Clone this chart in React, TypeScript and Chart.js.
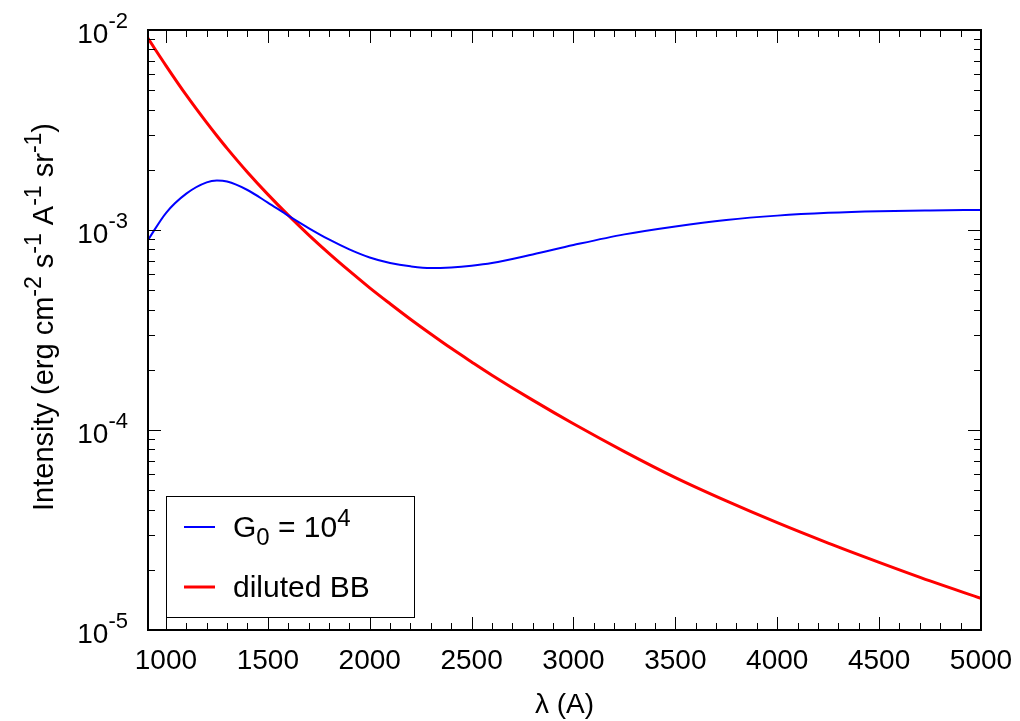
import React, { useEffect, useRef } from 'react';
import { Chart, registerables } from 'chart.js';

Chart.register(...registerables);

// Wavelength grid (Å)
const wavelengths = [912, 1000, 1100, 1200, 1250, 1300, 1400, 1500, 1600, 1700, 1800, 1900, 2000, 2100, 2200, 2300, 2400, 2500, 2600, 2800, 3000, 3250, 3500, 3750, 4000, 4250, 4500, 4750, 5000];

// G0 = 10^4 field intensity
const g0Intensity = [8.91e-4, 1.216e-3, 1.52e-3, 1.73e-3, 1.766e-3, 1.746e-3, 1.585e-3, 1.371e-3, 1.18e-3, 1.023e-3, 8.97e-4, 8.0e-4, 7.29e-4, 6.84e-4, 6.58e-4, 6.45e-4, 6.5e-4, 6.63e-4, 6.84e-4, 7.55e-4, 8.41e-4, 9.51e-4, 1.042e-3, 1.122e-3, 1.18e-3, 1.219e-3, 1.242e-3, 1.253e-3, 1.259e-3];

// diluted black body intensity
const bbIntensity = [9.08e-3, 6.64e-3, 4.72e-3, 3.44e-3, 2.96e-3, 2.56e-3, 1.945e-3, 1.507e-3, 1.186e-3, 9.46e-4, 7.64e-4, 6.24e-4, 5.14e-4, 4.28e-4, 3.58e-4, 3.02e-4, 2.56e-4, 2.19e-4, 1.88e-4, 1.41e-4, 1.074e-4, 7.8e-5, 5.78e-5, 4.42e-5, 3.44e-5, 2.72e-5, 2.18e-5, 1.76e-5, 1.44e-5];

const xTickValues = [1000, 1500, 2000, 2500, 3000, 3500, 4000, 4500, 5000];
const yDecades = [-5, -4, -3, -2];
const seriesNames = ['G0 = 10^4', 'diluted BB'];

const FONT = '"Liberation Sans", Arial, Helvetica, sans-serif';

type Seg = { t: string; s?: 'sup' | 'sub' };

function segFont(size: number, s?: string) {
  return `${s ? Math.round(size * 0.8) : size}px ${FONT}`;
}

function richWidth(ctx: CanvasRenderingContext2D, segs: Seg[], size: number) {
  let w = 0;
  for (const sg of segs) {
    ctx.font = segFont(size, sg.s);
    w += ctx.measureText(sg.t).width;
  }
  return w;
}

function drawRich(ctx: CanvasRenderingContext2D, segs: Seg[], x: number, y: number, size: number, align: 'left' | 'right' | 'center', raise: number, lower: number) {
  const w = richWidth(ctx, segs, size);
  let cx = align === 'left' ? x : align === 'right' ? x - w : x - w / 2;
  ctx.textAlign = 'left';
  ctx.textBaseline = 'alphabetic';
  for (const sg of segs) {
    ctx.font = segFont(size, sg.s);
    const dy = sg.s === 'sup' ? -raise : sg.s === 'sub' ? lower : 0;
    ctx.fillText(sg.t, cx, y + dy);
    cx += ctx.measureText(sg.t).width;
  }
}

const decorPlugin = {
  id: 'decor',
  afterDraw(chart: any) {
    const ctx: CanvasRenderingContext2D = chart.ctx;
    const { left, right, top, bottom } = chart.chartArea;
    const xs = chart.scales.x;
    const ys = chart.scales.y;
    ctx.save();
    ctx.fillStyle = '#000';
    ctx.strokeStyle = '#000';

    // x ticks (inward, mirrored on top)
    ctx.lineWidth = 1;
    for (let v = 1000; v <= 5000; v += 100) {
      const px = Math.round(xs.getPixelForValue(v)) + 0.5;
      const len = v % 500 === 0 ? 13 : 7;
      ctx.beginPath();
      ctx.moveTo(px, bottom);
      ctx.lineTo(px, bottom - len);
      ctx.moveTo(px, top);
      ctx.lineTo(px, top + len);
      ctx.stroke();
    }
    // y ticks
    for (const e of yDecades) {
      for (let k = 1; k <= 9; k++) {
        if (e === -2 && k > 1) break;
        const v = k * Math.pow(10, e);
        const py = Math.round(ys.getPixelForValue(v)) + 0.5;
        const len = k === 1 ? 13 : 7;
        ctx.beginPath();
        ctx.moveTo(left, py);
        ctx.lineTo(left + len, py);
        ctx.moveTo(right, py);
        ctx.lineTo(right - len, py);
        ctx.stroke();
      }
    }
    // y tick labels
    for (const e of yDecades) {
      const py = ys.getPixelForValue(Math.pow(10, e));
      drawRich(ctx, [{ t: '10' }, { t: String(e), s: 'sup' }], left - 20, py + 13, 28, 'right', 15, 0);
    }
    // frame
    ctx.lineWidth = 2;
    ctx.strokeRect(left, top, right - left, bottom - top);

    // y title
    ctx.save();
    ctx.translate(53, 317);
    ctx.rotate(-Math.PI / 2);
    drawRich(ctx, [
      { t: 'Intensity (erg cm' }, { t: '-2', s: 'sup' },
      { t: ' s' }, { t: '-1', s: 'sup' },
      { t: ' A' }, { t: '-1', s: 'sup' },
      { t: ' sr' }, { t: '-1', s: 'sup' },
      { t: ')' },
    ], 0, 0, 29, 'center', 12, 0);
    ctx.restore();

    // x title
    drawRich(ctx, [{ t: 'λ (A)' }], (left + right) / 2, 713, 28, 'center', 0, 0);

    // legend
    const lx = 166, ly = 496, lw = 248, lh = 121;
    ctx.fillStyle = '#fff';
    ctx.fillRect(lx, ly, lw, lh);
    ctx.lineWidth = 1;
    ctx.strokeStyle = '#000';
    ctx.strokeRect(lx + 0.5, ly + 0.5, lw, lh);
    const ds = chart.data.datasets;
    ctx.lineWidth = ds[0].borderWidth;
    ctx.strokeStyle = ds[0].borderColor;
    ctx.beginPath();
    ctx.moveTo(184, 527);
    ctx.lineTo(215, 527);
    ctx.stroke();
    ctx.lineWidth = ds[1].borderWidth;
    ctx.strokeStyle = ds[1].borderColor;
    ctx.beginPath();
    ctx.moveTo(184, 587);
    ctx.lineTo(215, 587);
    ctx.stroke();
    ctx.fillStyle = '#000';
    drawRich(ctx, [{ t: 'G' }, { t: '0', s: 'sub' }, { t: ' = 10' }, { t: '4', s: 'sup' }], 233, 537, 30, 'left', 11, 8);
    drawRich(ctx, [{ t: seriesNames[1] }], 233, 597, 30, 'left', 0, 0);
    ctx.restore();
  },
};

export default function App() {
  const ref = useRef<HTMLCanvasElement | null>(null);
  useEffect(() => {
    document.body.style.margin = '0';
    const canvas = ref.current!;
    const chart = new Chart(canvas, {
      type: 'line',
      data: {
        datasets: [
          {
            label: seriesNames[0],
            data: wavelengths.map((x, i) => ({ x, y: g0Intensity[i] })),
            borderColor: '#0000ff',
            borderWidth: 2,
            pointRadius: 0,
            cubicInterpolationMode: 'monotone',
            fill: false,
          },
          {
            label: seriesNames[1],
            data: wavelengths.map((x, i) => ({ x, y: bbIntensity[i] })),
            borderColor: '#ff0000',
            borderWidth: 3,
            pointRadius: 0,
            cubicInterpolationMode: 'monotone',
            fill: false,
          },
        ],
      },
      options: {
        animation: false,
        responsive: false,
        maintainAspectRatio: false,
        devicePixelRatio: 1,
        layout: { padding: { top: 30, right: 39, left: 0, bottom: 0 } },
        plugins: { legend: { display: false }, tooltip: { enabled: false }, title: { display: false } },
        scales: {
          x: {
            type: 'linear',
            min: 912,
            max: 5000,
            grid: { display: false, drawTicks: false },
            border: { display: false },
            afterBuildTicks: (scale: any) => {
              scale.ticks = xTickValues.map((v) => ({ value: v }));
            },
            afterFit: (scale: any) => {
              scale.height = 91;
              scale.paddingLeft = 0;
              scale.paddingRight = 0;
            },
            ticks: {
              color: '#000',
              font: { family: FONT, size: 28 },
              padding: 14,
              maxRotation: 0,
              autoSkip: false,
              callback: (v: any) => String(v),
            },
          },
          y: {
            type: 'logarithmic',
            min: 1e-5,
            max: 1e-2,
            grid: { display: false, drawTicks: false },
            border: { display: false },
            ticks: { display: false },
            afterFit: (scale: any) => {
              scale.width = 148;
              scale.paddingTop = 0;
              scale.paddingBottom = 0;
            },
          },
        },
      } as any,
      plugins: [decorPlugin],
    });
    return () => chart.destroy();
  }, []);
  return (
    <div style={{ position: 'absolute', left: 0, top: 0, width: 1020, height: 721, background: '#fff' }}>
      <canvas ref={ref} width={1020} height={721} style={{ width: 1020, height: 721, display: 'block' }} />
    </div>
  );
}
